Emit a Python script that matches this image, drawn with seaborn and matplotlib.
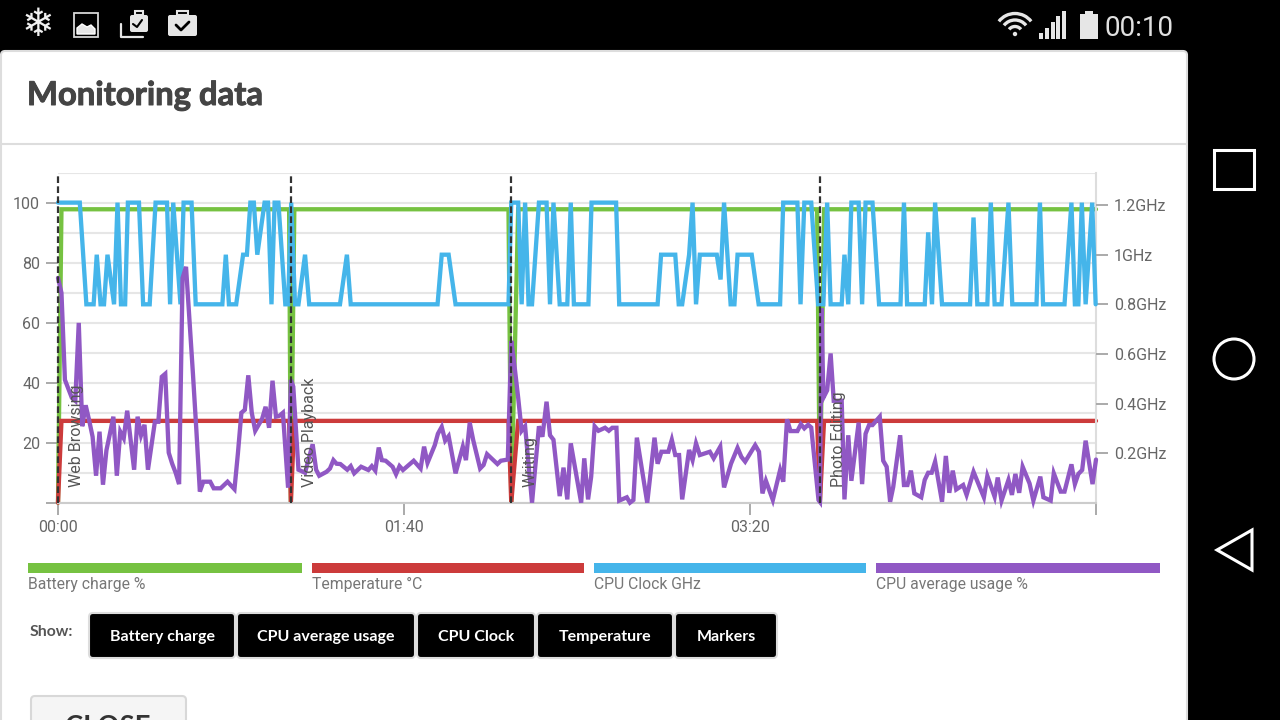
import matplotlib
matplotlib.use('Agg')
import matplotlib.pyplot as plt
import matplotlib.patheffects as pe
from matplotlib.patches import Rectangle, FancyBboxPatch, Polygon, Circle, Arc
import seaborn as sns

battery_t = [0, 1, 66.8, 67.3, 68.3, 130.2, 131, 133, 219.4, 220.2, 221.4, 300]
battery_pct = [0, 97.9, 97.9, 0, 97.9, 97.9, 0, 97.9, 97.9, 0, 97.9, 97.9]
temp_c = [0, 27.3, 27.3, 0, 27.3, 27.3, 0, 27.3, 27.3, 0, 27.3, 27.3]

clock_t = [0, 6.3, 8.2, 10.3, 11.2, 12.3, 13.3, 14.3, 16.2, 17.2, 18.2, 19.4, 20.2, 23.4, 24.6, 26.5,
           28.2, 31.5, 32.4, 33.3, 35.4, 36.3, 38.6, 39.8, 47.5, 48.5, 49.4, 51.5, 53.5, 54.6, 55.6, 56.6,
           57.6, 59.7, 60.7, 61.7, 62.6, 63.7, 65.7, 66.5, 67.4, 68.5, 69.5, 71.4, 72.6, 81.5, 83.5, 84.6,
           109.7, 110.9, 112.9, 114.9, 130.2, 131, 133, 134, 135, 136, 137, 139, 141.2, 142.2, 143.2, 145,
           147.2, 148.2, 149.1, 153.3, 154.2, 161.3, 162.2, 173.3, 174.3, 178.4, 179.4, 180.4, 182.4, 183.4, 184.4, 185.5,
           190.4, 191.5, 192.5, 194.4, 195.5, 196.4, 200.5, 202.5, 208.7, 209.6, 213.7, 214.6, 215.7, 217.7, 219.7, 221.2,
           222.3, 223.3, 226.5, 227.3, 228.4, 229.3, 231.4, 232.4, 233.4, 235.4, 237.3, 243.5, 244.5, 245.4, 250.5, 251.5,
           252.6, 253.5, 255.5, 263.6, 264.6, 265.7, 268.6, 269.6, 270.7, 272.7, 274.7, 275.8, 282.8, 283.8, 284.7, 290.9,
           292.9, 293.9, 294.9, 295.9, 297, 298.9, 299.9]
clock_ghz = [1.21, 1.21, 0.8, 0.8, 1.0, 0.8, 0.8, 1.0, 0.8, 1.21, 0.8, 0.8, 1.21, 1.21, 0.8, 0.8,
             1.21, 1.21, 0.8, 1.21, 0.8, 1.21, 1.21, 0.8, 0.8, 1.0, 0.8, 0.8, 1.0, 1.0, 1.21, 1.21,
             1.0, 1.21, 1.21, 0.8, 1.21, 1.21, 0.8, 0.8, 1.21, 0.8, 0.8, 1.0, 0.8, 0.8, 1.0, 0.8,
             0.8, 1.0, 1.0, 0.8, 0.8, 1.21, 1.21, 0.8, 1.21, 0.8, 0.8, 1.21, 1.21, 0.8, 1.21, 0.8,
             0.8, 1.21, 0.8, 0.8, 1.21, 1.21, 0.8, 0.8, 1.0, 1.0, 0.8, 0.8, 1.0, 1.21, 0.8, 1.0,
             1.0, 0.9, 1.21, 0.8, 0.8, 1.0, 1.0, 0.8, 0.8, 1.21, 1.21, 0.8, 1.21, 1.21, 0.8, 0.8,
             1.21, 0.8, 0.8, 1.0, 0.8, 1.21, 1.21, 0.8, 1.21, 1.21, 0.8, 0.8, 1.21, 0.8, 0.8, 1.09,
             0.8, 1.21, 0.8, 0.8, 1.15, 0.8, 0.8, 1.21, 0.8, 0.8, 1.21, 0.8, 0.8, 1.21, 0.8, 0.8,
             1.21, 0.8, 0.8, 1.21, 0.8, 1.21, 0.8]

cpu_t = [0, 1, 2, 3, 4, 5, 6, 7, 8, 9, 10, 11, 12, 13, 14, 15, 16, 17, 18, 19, 20, 21, 22, 23, 24, 25, 26, 27, 28, 29,
         30, 31, 32, 33, 34, 35, 36, 37, 38, 39, 40, 41, 42, 44, 45, 47, 49, 51, 52, 53, 54, 55, 56, 57, 58, 59, 60,
         61, 62, 63, 64, 65, 66.5, 67.3, 68, 69.5, 71.4, 73.6, 74.6, 75.5, 77.6, 78.6, 79.6, 80.5, 81.6, 83.6, 84.6,
         85.6, 87.6, 89.7, 90.7, 91.7, 92.7, 93.6, 94.7, 96.7, 97.7, 98.7, 99.7, 102.8, 104.8, 105.8, 106.8, 108.9,
         109.8, 110.9, 111.9, 112.9, 114.9, 117, 117.9, 119, 120, 122, 123, 124, 127, 128, 130, 131, 132, 133, 134,
         135, 137, 139, 140, 141.2, 142.2, 143.2, 145, 146.1, 147.2, 148.2, 151.2, 152.1, 153.2, 154.1, 155.1, 156.2,
         158.1, 159.2, 160.2, 161.4, 162.2, 164.4, 165.3, 166.3, 167.3, 170.3, 172.4, 173.3, 174.4, 176.4, 177.4,
         178.4, 179.5, 180.4, 182.4, 183.4, 184.4, 185.5, 188.4, 189.5, 191.4, 192.5, 194.5, 196.4, 197.5, 198.6,
         201.5, 202.6, 203.6, 204.6, 206.6, 208.7, 209.6, 210.7, 211.7, 213.7, 214.7, 215.7, 216.8, 217.7, 219.8,
         220.2, 220.7, 221.2, 222.3, 223.3, 224.2, 226.5, 227.3, 228.4, 229.3, 231.4, 232.4, 233.4, 234.4, 235.4,
         237.5, 238.5, 239.5, 240.5, 241.4, 243.4, 244.5, 245.5, 246.5, 247.5, 249.5, 250.5, 251.5, 252.5, 253.5,
         255.5, 256.6, 257.6, 258.6, 259.6, 261.6, 262.6, 264.6, 267.6, 268.6, 270.7, 271.6, 272.7, 274.7, 275.7,
         276.7, 277.8, 278.8, 280.8, 281.9, 283.9, 284.8, 286.9, 287.8, 289.8, 290.9, 292.9, 293.9, 294.9, 296, 297,
         299, 300]
cpu_pct = [75, 70, 41, 38, 35, 34, 60, 25.5, 32.5, 27.5, 22, 9, 23.7, 6, 17.5, 23, 28.7, 9, 23.7, 21.5, 30.7, 21, 11, 28.7, 22.5, 26, 11, 19, 27, 27,
           42, 43, 16.7, 13, 10, 6.2, 75, 78.7, 61, 43, 24, 3.7, 7, 7, 4.8, 4.8, 7, 4.5, 16.5, 30, 31, 42.5, 30, 24, 26, 28, 32,
           25, 40.7, 28.7, 29, 30, 5, 41, 38.7, 11, 10, 19.5, 11, 9, 10.3, 11.4, 14.2, 13, 12.9, 11, 12.2,
           9.8, 12, 10.9, 12.2, 10.7, 18.4, 14.2, 14, 12, 9.5, 12.2, 10.9, 14, 11.4, 18.7, 13.3, 19.2,
           23, 25.3, 20.7, 22.2, 9.8, 18.7, 14.2, 26.7, 20.9, 11.4, 12.6, 16.2, 12.9, 14, 14.4, 54, 45, 35, 24,
           25.5, 0, 25.5, 22, 33.7, 22.5, 21, 2.2, 11.7, 1.1, 19.8, 0, 14.8, 1.1, 8.7, 25.5, 24,
           25, 24, 25, 25, 0.7, 1.8, 0, 0.9, 21.7, 0, 21.7, 13, 17, 17, 21,
           15.9, 15.9, 1.1, 17.6, 14.2, 19.8, 15.9, 17, 14.8, 18.7, 5.1, 13, 18.3, 15.3, 13.7,
           19.2, 17, 3.1, 7.3, 0.9, 10.9, 7, 27.8, 23.9, 23.9, 26.2, 24.8, 26, 25.1, 0.9,
           0.3, 64.8, 35, 37.5, 49.8, 34, 34, 1.1, 22.5, 7.3, 26.7, 6.2, 23, 25.9, 25.9,
           28.7, 14, 12, 0.3, 5.3, 22.5, 5.9, 5.9, 10.7, 3.1, 1.8, 7.6, 10, 10, 13.7,
           0.3, 15.6, 3.3, 10.7, 4.4, 5.9, 2.6, 10.3, 1.8, 8.9, 2, 8.4, 0.7, 7.6, 2.6,
           9.6, 3.3, 12, 6.4, 0.7, 8.7, 1.8, 0.7, 9.8, 3.7, 3.7, 12.8, 6.2, 9.6, 10.9, 20.7,
           6.2, 14.4]

marker_t = [0, 67.3, 131, 220.2]
marker_names = ['Web Browsing', 'Video Playback', 'Writing', 'Photo Editing']

left_ticks = [0, 20, 40, 60, 80, 100]
left_labels = ['', '20', '40', '60', '80', '100']
minor_ticks = [10, 30, 50, 70, 90, 110]
right_ticks = [0.2, 0.4, 0.6, 0.8, 1.0, 1.2]
right_labels = ['0.2GHz', '0.4GHz', '0.6GHz', '0.8GHz', '1GHz', '1.2GHz']
time_ticks = [0, 100, 200, 300]
time_labels = ['00:00', '01:40', '03:20', '']

legend_names = ['Battery charge %', 'Temperature °C', 'CPU Clock GHz', 'CPU average usage %']
button_names = ['Battery charge', 'CPU average usage', 'CPU Clock', 'Temperature', 'Markers']

GREEN = '#76c241'
RED = '#cc3b3b'
BLUE = '#45b5ea'
PURPLE = '#9058c4'

sns.set_theme(style='white')
plt.rcParams['font.family'] = ['Roboto', 'DejaVu Sans']
W, H = 1280, 720
fig = plt.figure(figsize=(12.8, 7.2), dpi=100, facecolor='black')

# moldura do app em coordenadas de pixel
page = fig.add_axes([0, 0, 1, 1])
page.set_xlim(0, W)
page.set_ylim(H, 0)
page.axis('off')
page.add_patch(FancyBboxPatch((1, 51), 1186, 700, boxstyle='round,pad=0,rounding_size=4',
                              fc='white', ec='#dddddd', lw=1.5))
page.plot([1, 1187], [144, 144], color='#dddddd', lw=1.5)
title = page.text(27, 105, 'Monitoring data', family='Lato', weight='bold', fontsize=23.6, color='#444444',
                  va='baseline')
title.set_path_effects([pe.withStroke(linewidth=0.7, foreground='#444444')])

# barra de status
page.text(38, 25, '\u2744', family='DejaVu Sans', fontsize=28, color='#f0f0f0', ha='center', va='center')
page.add_patch(Rectangle((74, 13), 24, 24, fc='none', ec='#d8d8d8', lw=1.3))
page.add_patch(Polygon([(77, 34), (77, 28), (82, 24), (87, 27), (91, 25), (95, 29), (95, 34)], fc='#e6e6e6'))
for bx, by in [(130, 15), (168, 15)]:
    page.add_patch(FancyBboxPatch((bx, by), 18 if bx == 130 else 29, 17 if bx == 130 else 21,
                                  boxstyle='round,pad=0,rounding_size=2', fc='#e6e6e6', ec='none'))
page.add_patch(Rectangle((135, 11), 8, 4, fc='none', ec='#e6e6e6', lw=1.5))
page.add_patch(Rectangle((177, 11), 11, 4, fc='none', ec='#e6e6e6', lw=1.5))
page.plot([121, 121, 143], [24, 37, 37], color='#e6e6e6', lw=1.6)
page.plot([133, 137, 142], [24, 27, 20], color='black', lw=1.5)
page.plot([176, 181, 189], [25, 30, 22], color='black', lw=2)
for rad in [15, 28, 41]:
    page.add_patch(Arc((1015, 34), rad, rad, theta1=218, theta2=322, ec='#e6e6e6', lw=2.4))
page.add_patch(Circle((1015, 34), 2.2, fc='#e6e6e6', ec='none'))
for i, top in enumerate([33, 28, 22, 16, 11]):
    page.add_patch(Rectangle((1039 + i * 5.8, top), 4, 39 - top, fc='#e6e6e6', ec='none'))
page.add_patch(Rectangle((1080, 14), 18, 25, fc='#e6e6e6', ec='none'))
page.add_patch(Rectangle((1085, 11), 8, 3, fc='#e6e6e6', ec='none'))
page.text(1104, 36, '00:10', fontsize=20, color='#e0e0e0', va='baseline')

# navegacao
page.add_patch(Rectangle((1214, 150), 40, 39, fc='none', ec='white', lw=2.2))
page.add_patch(Circle((1234, 359), 20, fc='none', ec='white', lw=2.2))
page.add_patch(Polygon([(1217, 550), (1252, 530), (1252, 570)], fc='none', ec='white', lw=2.2))

# legenda
legend_x = [(28, 302), (312, 584), (594, 866), (876, 1160)]
legend_colors = [GREEN, RED, BLUE, PURPLE]
for (x0, x1), c, name in zip(legend_x, legend_colors, legend_names):
    page.add_patch(Rectangle((x0, 563), x1 - x0, 10, fc=c, ec='none'))
    page.text(x0 + 0.5, 589, name, fontsize=11.3, color='#777777', va='baseline')

# botoes
page.text(30, 636, 'Show:', family='Lato', weight='bold', fontsize=11.3, color='#555555', va='baseline')
button_x = [(89, 235), (237, 415), (417, 535), (537, 673), (675, 777)]
for (x0, x1), name in zip(button_x, button_names):
    page.add_patch(FancyBboxPatch((x0, 613), x1 - x0, 45, boxstyle='round,pad=0,rounding_size=4',
                                  fc='black', ec='#dddddd', lw=1.5))
    page.text((x0 + x1) / 2, 641, name, family='Lato', weight='bold', fontsize=11.5, color='white',
              ha='center', va='baseline')
page.add_patch(FancyBboxPatch((31, 696), 155, 40, boxstyle='round,pad=0,rounding_size=4',
                              fc='#f5f5f5', ec='#d8d8d8', lw=1.5))
page.text(108, 736, 'CLOSE', family='Lato', weight='bold', fontsize=19.8, color='#333333', ha='center', va='baseline')

# grafico
rect = [58 / W, (H - 502.7) / H, (1096 - 58) / W, (502.7 - 173) / H]
ax = fig.add_axes(rect, facecolor='none')
ax_clock = ax.twinx()
ax_cpu = ax.twinx()

line_kw = dict(estimator=None, sort=False, errorbar=None, lw=3.1, clip_on=False, solid_joinstyle='miter')
sns.lineplot(x=battery_t, y=battery_pct, color=GREEN, ax=ax, **line_kw)
sns.lineplot(x=battery_t, y=temp_c, color=RED, ax=ax, **line_kw)
sns.lineplot(x=clock_t, y=clock_ghz, color=BLUE, ax=ax_clock, **line_kw)
sns.lineplot(x=cpu_t, y=cpu_pct, color=PURPLE, ax=ax_cpu, **line_kw)

for t, name in zip(marker_t, marker_names):
    ax_cpu.axvline(t, color='#333333', lw=1.6, ls=(0, (3, 1.5)), clip_on=False)
    ax_cpu.text(t + 5.4, 5.3, name, rotation=90, fontsize=11.5, color='#555555', ha='center', va='bottom')

ax.set_xlim(0, 300)
ax.set_ylim(0, 110)
ax_clock.set_ylim(0, 329.7 / 248)
ax_cpu.set_ylim(0, 110)

ax.set_yticks(left_ticks, left_labels)
ax.set_yticks(minor_ticks, minor=True)
ax.set_xticks(time_ticks, time_labels)
ax.grid(True, which='both', axis='y', color='#e6e6e6', lw=1.5)
ax.tick_params(axis='y', which='major', left=True, length=8.6, width=1.4, color='#aaaaaa', pad=4.3,
               labelsize=11.5, labelcolor='#666666')
ax.tick_params(axis='y', which='minor', left=False)
ax.tick_params(axis='x', bottom=True, length=8.6, width=1.4, color='#aaaaaa', pad=3.5,
               labelsize=11.5, labelcolor='#666666')
ax.xaxis.get_major_ticks()[-1].tick1line.set_color('#dddddd')

ax_clock.set_yticks(right_ticks, right_labels)
ax_clock.tick_params(axis='y', right=True, length=8.6, width=1.4, color='#aaaaaa', pad=4.3,
                     labelsize=11.5, labelcolor='#666666')
ax_clock.grid(False)
ax_cpu.axis('off')

for a in [ax, ax_clock]:
    a.set_xlabel('')
    a.set_ylabel('')
    for side in ['top', 'left', 'right', 'bottom']:
        a.spines[side].set_visible(False)
ax.spines['bottom'].set_visible(True)
ax.spines['bottom'].set_color('#cccccc')
ax.spines['bottom'].set_linewidth(1.5)
ax.spines['right'].set_visible(True)
ax.spines['right'].set_color('#dddddd')
ax.spines['right'].set_linewidth(1.5)

fig.savefig('out.png', dpi=100, facecolor='black')
